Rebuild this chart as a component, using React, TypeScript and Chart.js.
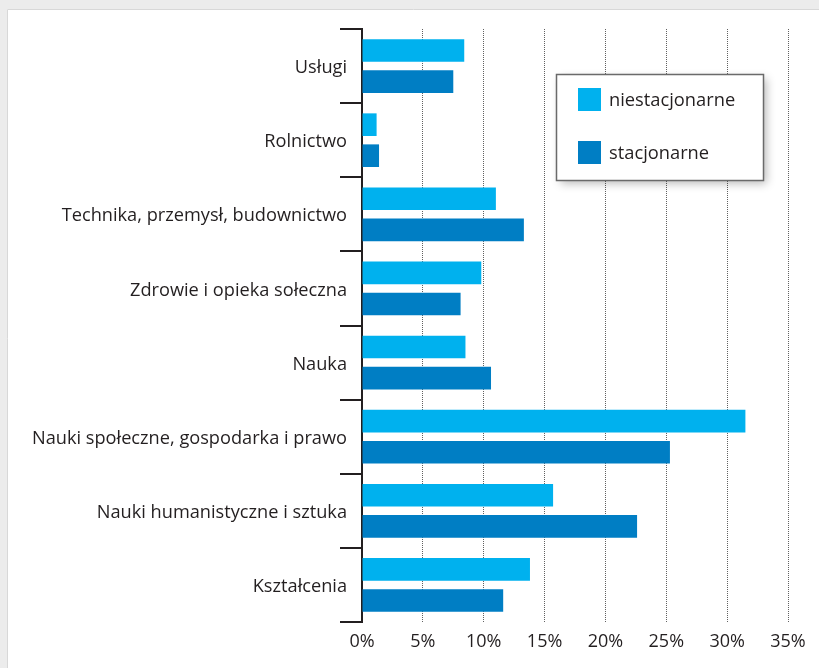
import React, { useEffect, useRef } from "react";
import { Chart, registerables } from "chart.js";

Chart.register(...registerables);

const categories = [
  "Usługi",
  "Rolnictwo",
  "Technika, przemysł, budownictwo",
  "Zdrowie i opieka sołeczna",
  "Nauka",
  "Nauki społeczne, gospodarka i prawo",
  "Nauki humanistyczne i sztuka",
  "Kształcenia",
];
const niestacjonarne = [8.4, 1.2, 11.0, 9.8, 8.5, 31.5, 15.7, 13.8];
const stacjonarne = [7.5, 1.4, 13.3, 8.1, 10.6, 25.3, 22.6, 11.6];
const seriesNames = ["niestacjonarne", "stacjonarne"];
const seriesColors = ["#00B1EE", "#007EC4"];
const xMin = 0;
const xMax = 35;
const xStep = 5;

const FONT = "'Open Sans', sans-serif";
const TEXT = "#231f20";

const backgroundPlugin = {
  id: "bgPanel",
  beforeDraw(chart: any) {
    const { ctx, width, height } = chart;
    ctx.save();
    ctx.fillStyle = "#ececec";
    ctx.fillRect(0, 0, width, height);
    ctx.fillStyle = "#ffffff";
    ctx.fillRect(7, 9, width - 7, height - 9);
    ctx.strokeStyle = "#d8d8d8";
    ctx.lineWidth = 1;
    ctx.beginPath();
    ctx.moveTo(7.5, height);
    ctx.lineTo(7.5, 9.5);
    ctx.lineTo(width, 9.5);
    ctx.stroke();
    ctx.restore();
  },
};

const legendPlugin = {
  id: "boxLegend",
  afterDraw(chart: any) {
    const { ctx } = chart;
    const bx = 556.5, by = 74.5, bw = 207, bh = 106;
    ctx.save();
    ctx.shadowColor = "rgba(0,0,0,0.28)";
    ctx.shadowBlur = 9;
    ctx.shadowOffsetX = 3;
    ctx.shadowOffsetY = 3;
    ctx.fillStyle = "#ffffff";
    ctx.fillRect(bx, by, bw, bh);
    ctx.restore();
    ctx.save();
    ctx.strokeStyle = "#6a6a6a";
    ctx.lineWidth = 1.5;
    ctx.strokeRect(bx, by, bw, bh);
    const rows = [99.5, 152.5];
    chart.data.datasets.forEach((ds: any, i: number) => {
      ctx.fillStyle = ds.backgroundColor;
      ctx.fillRect(578, rows[i] - 11.5, 23, 23);
      ctx.fillStyle = TEXT;
      ctx.font = `18.3px ${FONT}`;
      ctx.textAlign = "left";
      ctx.textBaseline = "middle";
      ctx.fillText(ds.label, 609, rows[i] + 1);
    });
    ctx.restore();
  },
};

export default function App() {
  const ref = useRef<HTMLCanvasElement>(null);
  useEffect(() => {
    if (!ref.current) return;
    const chart = new Chart(ref.current, {
      type: "bar",
      data: {
        labels: categories,
        datasets: [
          {
            label: seriesNames[0],
            data: niestacjonarne,
            backgroundColor: seriesColors[0],
            categoryPercentage: 0.837,
            barPercentage: 0.73,
          },
          {
            label: seriesNames[1],
            data: stacjonarne,
            backgroundColor: seriesColors[1],
            categoryPercentage: 0.837,
            barPercentage: 0.73,
          },
        ],
      },
      options: {
        indexAxis: "y",
        animation: false,
        responsive: false,
        devicePixelRatio: 1,
        layout: { padding: { top: 29, right: 31, bottom: 0, left: 0 } },
        plugins: { legend: { display: false }, tooltip: { enabled: false } },
        scales: {
          x: {
            type: "linear",
            min: xMin,
            max: xMax,
            afterFit: (s: any) => {
              s.height = 46;
            },
            ticks: {
              stepSize: xStep,
              color: TEXT,
              font: { family: FONT, size: 18 },
              padding: 9,
              callback: (v: any) => `${v}%`,
            },
            grid: {
              color: "#606060",
              lineWidth: 1,
              drawTicks: false,
            },
            border: { display: false, dash: [1, 1] },
          },
          y: {
            type: "category",
            afterFit: (s: any) => {
              s.width = 362;
            },
            ticks: {
              color: TEXT,
              font: { family: FONT, size: 18.2 },
              padding: -7,
              labelOffset: 2,
            },
            grid: {
              offset: true,
              drawOnChartArea: false,
              drawTicks: true,
              tickLength: 22,
              color: TEXT,
              lineWidth: 2,
            },
            border: { display: true, color: TEXT, width: 2 },
          },
        },
      },
      plugins: [backgroundPlugin, legendPlugin],
    });
    return () => chart.destroy();
  }, []);
  return (
    <div style={{ position: "fixed", left: 0, top: 0, width: 819, height: 668 }}>
      <canvas ref={ref} width={819} height={668} style={{ display: "block" }} />
    </div>
  );
}
